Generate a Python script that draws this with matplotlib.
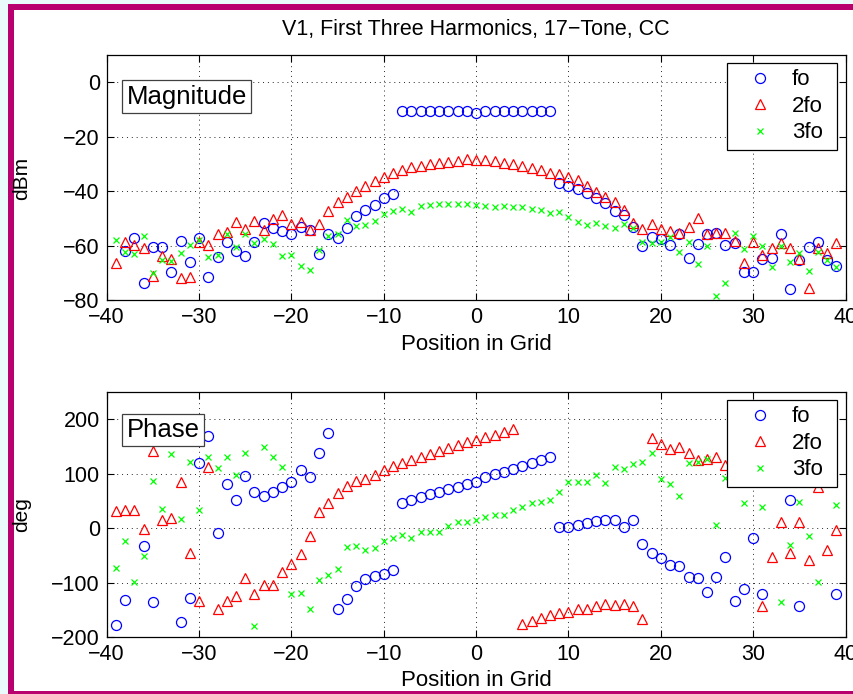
import numpy as np
import matplotlib
matplotlib.use('Agg')
import matplotlib.pyplot as plt
from matplotlib.patches import Rectangle

plt.rcParams['font.family'] = ['Liberation Sans', 'DejaVu Sans']

nan = np.nan
pos = np.arange(-39, 40)

# magnitude (dBm)
mag_fo = [nan, -61.9, -57.4, -73.7, -60.4, -60.7, -69.6, -58.2, -65.9, -57.4,
          -71.4, -64.1, -58.6, -61.9, -63.8, -58.6, -51.6, -53.7, -54.5, -55.8,
          -53.1, -54.3, -63.1, -55.8, -57.4, -53.7, -49.1, -46.9, -45.1, -42.6,
          -41.2,
          -10.5, -10.5, -10.5, -10.5, -10.5, -10.5, -10.5, -10.5, -11.3,
          -10.5, -10.5, -10.5, -10.5, -10.5, -10.5, -10.5, -10.5,
          -36.9, -38.1, -39.3, -40.8, -42.4, -44.2, -47.2, -48.9, -53.1, -60.0,
          -57.0, -57.6, -59.8, -55.8, -64.7, -59.6, -55.8, -55.5, -59.8, -58.9,
          -69.6, -69.6, -65.1, -64.7, -55.8, -76.1, -65.3, -60.4, -58.6, -65.3,
          -67.4]
mag_2fo = [-66.5, -58.6, -59.8, -60.8, -71.2, -63.8, -65.0, -72.0, -71.4, -58.6,
           -59.8, -55.9, -55.1, -51.5, -53.9, -50.9, -54.3, -50.4, -48.8, -52.1,
           -51.5, -54.3, -52.1, -47.3, -43.9, -42.3, -39.8, -38.1, -36.2, -34.9,
           -33.5, -32.2, -31.2, -30.8, -30.0, -29.5, -29.2, -28.8, -28.3, -28.4,
           -28.6, -28.8, -29.5, -30.0, -30.8, -31.4, -32.2, -33.5, -33.8, -34.7,
           -35.9, -38.1, -40.2, -42.0, -44.1, -46.9, -51.8, -54.0, -52.2, -54.0,
           -54.5, -55.3, -53.1, -49.8, -55.8, -55.3, -55.5, -58.2, -66.3, -58.6,
           -63.5, -61.0, -59.2, -61.0, -65.1, -75.5, -61.0, -62.6, -59.2]
mag_3fo = [-58.0, -62.3, -63.1, -56.4, -70.0, -65.3, -65.7, -62.9, -59.8, -58.0,
           -64.3, -63.5, -55.8, -60.7, -55.8, -58.9, -57.7, -59.6, -63.8, -63.5,
           -67.5, -69.0, -61.6, -56.4, -55.8, -50.6, -52.7, -52.5, -51.0, -48.4,
           -47.2, -46.6, -47.5, -45.5, -45.1, -44.9, -44.9, -44.9, -44.7, -45.1,
           -45.3, -45.7, -45.5, -45.7, -45.7, -46.7, -46.9, -48.2, -47.8, -49.4,
           -51.2, -52.5, -51.6, -52.8, -53.7, -52.1, -53.7, -58.6, -59.2, -58.6,
           -56.7, -62.3, -58.6, -66.8, -60.2, -78.6, -73.7, -55.5, -61.4, -56.5,
           -60.0, -67.8, -60.0, -65.9, -62.9, -69.2, -62.3, -65.3, -67.8]

# phase (deg)
ph_fo = [-177, -131, nan, -32, -136, nan, nan, -172, -127, 119,
         170, -9, 81, 52, 95, 66, 60, 66, 76, 84,
         106, 94, 138, 174, -149, -130, -106, -93, -87, -84,
         -76, 47, 52, 57, 62, 67, 72, 76, 82, 84,
         94, 99, 103, 109, 114, 119, 125, 131, 2, 3,
         6, 10, 14, 15, 15, 3, 15, -29, -46, -55,
         -67, -69, -90, -91, -116, -90, -53, -133, -111, -18,
         -121, nan, nan, 51, -143, nan, nan, nan, -121]
ph_2fo = [31, 34, 34, -2, 141, 15, 18, 84, -46, -133,
          113, -148, -133, -124, -92, -120, -104, -104, -81, -66,
          -48, -15, 29, 46, 65, 78, 86, 91, 98, 107,
          114, 119, 125, 130, 136, 141, 147, 152, 158, 162,
          167, 171, 176, 182, -176, -170, -165, -159, -156, -153,
          -149, -149, -143, -138, -141, -139, -142, -167, 166, 155,
          146, 149, 139, 125, 128, 131, 116, nan, 86, nan,
          -143, -52, 12, -45, 11, -58, 76, -40, -4]
ph_3fo = [-73, -23, -99, -51, 86, 35, 136, 17, 122, 34,
          130, 110, 130, 98, 138, -179, 149, 131, 113, -120,
          -118, -148, -95, -86, -75, -35, -32, -39, -37, -23,
          -17, -13, -18, -7, -6, -6, 5, 12, 12, 15,
          20, 24, 24, 34, 39, 46, 49, 52, 67, 84,
          84, 84, 97, 83, 113, 108, 117, 121, 139, 90,
          81, 60, 119, 122, 128, 6, 92, nan, 46, nan,
          39, nan, -135, -31, 48, -15, -99, nan, 42]

labels = ['fo', '2fo', '3fo']
xticks = np.arange(-40, 41, 10)

W, H = 854, 694
fig = plt.figure(figsize=(W / 100, H / 100), dpi=100)
fig.patch.set_facecolor('white')


def px(x0, y0, x1, y1):
    # pixel box (top-left origin) -> figure fraction rectangle
    return (x0 / W, 1 - y1 / H), (x1 - x0) / W, (y1 - y0) / H


# screenshot frame
cyan = '#e9fbfb'
mag = '#b8006e'
for (x0, y0, x1, y1), c in [((0, 0, 8, H), cyan), ((0, 0, W, 4), cyan),
                            ((8, 4, 14, H), mag), ((8, 4, W, 10), mag),
                            ((8, 691, W, H), mag)]:
    xy, w, h = px(x0, y0, x1, y1)
    fig.add_artist(Rectangle(xy, w, h, transform=fig.transFigure,
                             fc=c, ec='none', zorder=0))

left, width = 106.7 / W, (845.5 - 106.7) / W
ax1 = fig.add_axes([left, 1 - 300 / H, width, 245 / H])
ax2 = fig.add_axes([left, 1 - 637.3 / H, width, 245.3 / H])

styles = [dict(marker='o', color='b', ms=7.2),
          dict(marker='^', color='r', ms=7.4),
          dict(marker='x', color=(0, 1, 0), ms=5.0)]


def panel(ax, series, ylim, yticks, name, ylab, xlab_y, ylab_y):
    for vals, st, lab in zip(series, styles, labels):
        ax.plot(pos, vals, linestyle='none', marker=st['marker'],
                markersize=st['ms'], markerfacecolor='none',
                markeredgecolor=st['color'], markeredgewidth=0.9, label=lab)
    ax.set_xlim(-40, 40)
    ax.set_ylim(*ylim)
    ax.set_xticks(xticks)
    ax.set_yticks(yticks)
    ax.grid(True, color='0.15', linestyle=(0, (1.0, 4.0)), linewidth=0.7)
    ax.tick_params(direction='in', length=5, width=0.8, top=True, right=True,
                   labelsize=15.5, pad=5)
    for s in ax.spines.values():
        s.set_linewidth(0.9)
    ax.text(0.027, 0.83 if name == 'Magnitude' else 0.845, name,
            transform=ax.transAxes, fontsize=18.5, ha='left', va='center',
            zorder=10, bbox=dict(boxstyle='square,pad=0.17', fc='white',
                                 ec='0.25', lw=0.9))
    leg = ax.legend(loc='upper left', bbox_to_anchor=(0.8396, 0.5, 0.1489, 0.467),
                    mode='expand', fontsize=16, numpoints=1, handlelength=2.37,
                    handletextpad=0.26, borderpad=0.28, labelspacing=0.25,
                    borderaxespad=0, fancybox=False, framealpha=1,
                    edgecolor='k')
    leg.get_frame().set_linewidth(0.9)
    fig.text(476 / W, 1 - xlab_y / H, 'Position in Grid', fontsize=16,
             ha='center', va='center')
    fig.text(22 / W, 1 - ylab_y / H, ylab, fontsize=15, rotation=90,
             ha='center', va='center')


panel(ax1, [mag_fo, mag_2fo, mag_3fo], (-80, 10), [-80, -60, -40, -20, 0],
      'Magnitude', 'dBm', 344, 178)
panel(ax2, [ph_fo, ph_2fo, ph_3fo], (-200, 250), [-200, -100, 0, 100, 200],
      'Phase', 'deg', 681, 515)

fig.text(476 / W, 1 - 29 / H, 'V1, First Three Harmonics, 17\u2212Tone, CC',
         fontsize=15.5, ha='center', va='center')

fig.savefig('out.png', dpi=100)
